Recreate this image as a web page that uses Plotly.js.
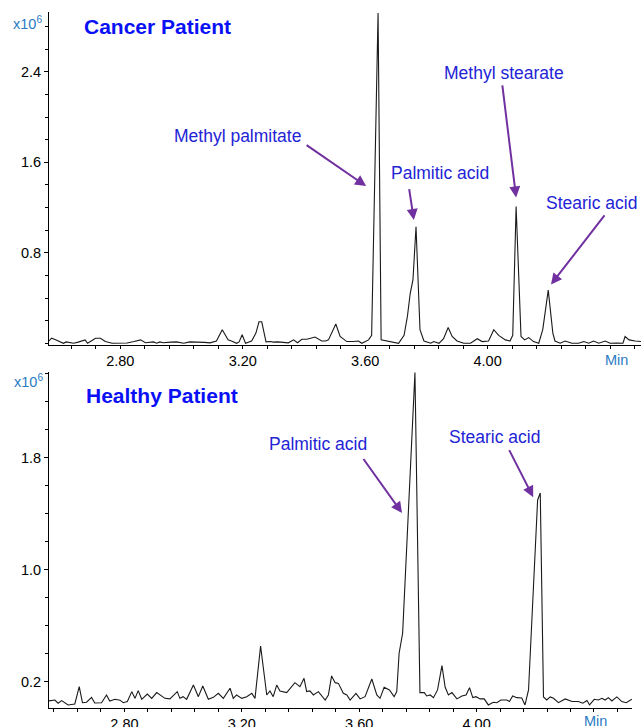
<!DOCTYPE html>
<html>
<head>
<meta charset="utf-8">
<script src="https://cdn.plot.ly/plotly-3.0.1.min.js"></script>
<style>
  html, body { margin: 0; padding: 0; background: #ffffff; }
  #chart { width: 641px; height: 727px; }
</style>
</head>
<body>
<div id="chart"></div>
<script>
// ---- Data (intensity in units of 10^6 counts, time in minutes) ----
const cancerTime = [2.567,2.575,2.585,2.600,2.614,2.623,2.647,2.662,2.685,2.693,2.705,2.719,2.735,2.751,2.773,2.800,2.822,2.845,2.866,2.882,2.895,2.908,2.919,2.929,2.940,2.951,2.965,2.984,3.007,3.027,3.045,3.060,3.075,3.093,3.105,3.114,3.133,3.152,3.163,3.180,3.188,3.198,3.209,3.220,3.229,3.243,3.253,3.262,3.276,3.290,3.300,3.315,3.333,3.349,3.366,3.379,3.393,3.409,3.422,3.436,3.458,3.470,3.480,3.504,3.518,3.540,3.561,3.578,3.589,3.611,3.621,3.642,3.652,3.671,3.692,3.709,3.727,3.738,3.747,3.756,3.766,3.779,3.792,3.802,3.814,3.824,3.841,3.856,3.871,3.884,3.900,3.922,3.944,3.966,3.982,4.003,4.020,4.036,4.058,4.073,4.082,4.093,4.109,4.121,4.134,4.150,4.167,4.180,4.198,4.213,4.220,4.237,4.253,4.275,4.297,4.314,4.330,4.346,4.363,4.384,4.400,4.422,4.442,4.449,4.462,4.482,4.501];
const cancerIntensity = [0.02,0.045,0.035,0.015,0.0,0.012,0.0,0.01,0.03,0.0,0.02,0.045,0.045,0.015,0.0,0.0,0.002,0.015,0.03,0.005,0.008,0.012,0.0,0.012,0.005,0.005,0.01,0.012,0.0,0.012,0.012,0.012,0.008,0.004,0.01,0.02,0.12,0.03,0.02,0.0,0.012,0.075,0.0,0.01,0.02,0.09,0.19,0.19,0.012,0.015,0.01,0.012,0.01,0.004,0.03,0.005,0.035,0.035,0.045,0.055,0.02,0.02,0.03,0.17,0.06,0.015,0.015,0.02,0.0,0.03,0.07,2.92,0.03,0.02,0.015,0.0,0.07,0.24,0.44,0.56,1.03,0.12,0.02,0.01,0.0,0.015,0.0,0.04,0.14,0.06,0.02,0.0,0.0,0.04,0.015,0.02,0.12,0.07,0.03,0.02,0.07,1.21,0.06,0.03,0.05,0.015,0.0,0.12,0.47,0.09,0.02,0.0,0.02,0.0,0.0,0.015,0.0,0.02,0.0,0.02,0.0,0.002,0.0,0.06,0.03,0.02,0.015];

const healthyTime = [2.540,2.563,2.574,2.586,2.608,2.631,2.646,2.657,2.671,2.688,2.699,2.722,2.739,2.750,2.768,2.785,2.796,2.810,2.825,2.836,2.847,2.859,2.878,2.893,2.910,2.921,2.938,2.955,2.966,2.980,2.989,3.000,3.012,3.035,3.052,3.067,3.086,3.103,3.120,3.137,3.160,3.171,3.182,3.200,3.217,3.234,3.245,3.264,3.285,3.296,3.307,3.319,3.330,3.353,3.381,3.398,3.412,3.421,3.432,3.444,3.461,3.484,3.495,3.506,3.518,3.529,3.546,3.558,3.569,3.589,3.603,3.620,3.643,3.660,3.671,3.685,3.703,3.719,3.728,3.736,3.748,3.760,3.790,3.807,3.822,3.830,3.842,3.853,3.867,3.882,3.893,3.904,3.916,3.933,3.950,3.964,3.976,3.987,3.998,4.012,4.026,4.040,4.057,4.069,4.083,4.103,4.112,4.123,4.137,4.154,4.165,4.177,4.208,4.217,4.228,4.239,4.251,4.262,4.279,4.302,4.325,4.347,4.362,4.376,4.385,4.401,4.415,4.427,4.438,4.449,4.461,4.478,4.495,4.510,4.529];
const healthyIntensity = [0.064,0.071,0.048,0.067,0.036,0.043,0.166,0.052,0.055,0.09,0.05,0.052,0.107,0.064,0.076,0.07,0.052,0.06,0.131,0.083,0.138,0.076,0.114,0.083,0.124,0.107,0.083,0.079,0.1,0.131,0.083,0.095,0.076,0.178,0.095,0.171,0.076,0.09,0.119,0.083,0.155,0.083,0.107,0.083,0.095,0.119,0.083,0.457,0.107,0.136,0.095,0.178,0.136,0.124,0.195,0.166,0.226,0.131,0.136,0.107,0.131,0.071,0.107,0.243,0.195,0.19,0.119,0.107,0.071,0.119,0.079,0.095,0.221,0.107,0.083,0.162,0.143,0.095,0.131,0.405,0.548,1.1,2.41,0.124,0.124,0.1,0.107,0.088,0.143,0.317,0.162,0.107,0.124,0.079,0.1,0.107,0.159,0.088,0.095,0.079,0.079,0.036,0.055,0.052,0.071,0.071,0.06,0.1,0.088,0.086,0.036,0.143,1.5,1.55,0.093,0.071,0.093,0.083,0.052,0.079,0.06,0.06,0.048,0.067,0.036,0.076,0.071,0.083,0.071,0.088,0.064,0.093,0.06,0.052,0.076];

const xTickValues = [2.8, 3.2, 3.6, 4.0];
const xTickLabels = ['2.80', '3.20', '3.60', '4.00'];
const cancerYTickValues = [0.8, 1.6, 2.4];
const cancerYTickLabels = ['0.8', '1.6', '2.4'];
const healthyYTickValues = [0.2, 1.0, 1.8];
const healthyYTickLabels = ['0.2', '1.0', '1.8'];

const panelTitles = ['Cancer Patient', 'Healthy Patient'];
const cancerPeakNames = ['Methyl palmitate', 'Palmitic acid', 'Methyl stearate', 'Stearic acid'];
const healthyPeakNames = ['Palmitic acid', 'Stearic acid'];
const scaleLabel = 'x10<sup>6</sup>';
const timeUnitLabel = 'Min';

// ---- Styling ----
const FONT = "Arial, 'Liberation Sans', sans-serif";
const LABEL_BLUE = '#2323d6';
const TITLE_BLUE = '#0a10f5';
const ARROW_PURPLE = '#7030a0';
const AXIS_BLUE = '#2b7bc4';

// label placement (text centre in data coords, arrow head in data coords, arrow tail offset in px)
const cancerLabelPlacement = [
  {tx: 3.184, ty: 1.833, hx: 3.603, hy: 1.39, ax: -61, ay: -42},
  {tx: 3.844, ty: 1.506, hx: 3.759, hy: 1.09, ax: -5, ay: -33},
  {tx: 4.054, ty: 2.390, hx: 4.093, hy: 1.29, ax: -14, ay: -114},
  {tx: 4.338, ty: 1.240, hx: 4.207, hy: 0.52, ax: 55, ay: -71}
];
const healthyLabelPlacement = [
  {tx: 3.461, ty: 1.90, hx: 3.746, hy: 1.407, ax: -40, ay: -56},
  {tx: 4.061, ty: 1.95, hx: 4.193, hy: 1.52, ax: -25, ay: -49}
];

const traces = [
  {x: cancerTime, y: cancerIntensity, xaxis: 'x', yaxis: 'y', type: 'scatter', mode: 'lines',
   line: {color: '#1a1a1a', width: 1.1}, hoverinfo: 'skip', showlegend: false},
  {x: healthyTime, y: healthyIntensity, xaxis: 'x2', yaxis: 'y2', type: 'scatter', mode: 'lines',
   line: {color: '#1a1a1a', width: 1.1}, hoverinfo: 'skip', showlegend: false}
];

const annotations = [];
function addPeakLabels(names, placement, xr, yr) {
  names.forEach((name, i) => {
    const p = placement[i];
    annotations.push({xref: xr, yref: yr, x: p.tx, y: p.ty, text: name, showarrow: false,
      xanchor: 'center', yanchor: 'middle', font: {family: FONT, size: 17.5, color: LABEL_BLUE}});
    annotations.push({xref: xr, yref: yr, x: p.hx, y: p.hy, text: ' ', showarrow: true,
      ax: p.ax, ay: p.ay, arrowhead: 2, arrowsize: 1.1, arrowwidth: 2, arrowcolor: ARROW_PURPLE,
      font: {size: 1}});
  });
}
addPeakLabels(cancerPeakNames, cancerLabelPlacement, 'x', 'y');
addPeakLabels(healthyPeakNames, healthyLabelPlacement, 'x2', 'y2');

annotations.push(
  {xref: 'x domain', yref: 'y domain', x: 0.056, y: 0.955, text: '<b>' + panelTitles[0] + '</b>',
   showarrow: false, xanchor: 'left', yanchor: 'middle', font: {family: FONT, size: 21, color: TITLE_BLUE}},
  {xref: 'x2 domain', yref: 'y2 domain', x: 0.06, y: 0.929, text: '<b>' + panelTitles[1] + '</b>',
   showarrow: false, xanchor: 'left', yanchor: 'middle', font: {family: FONT, size: 21, color: TITLE_BLUE}},
  {xref: 'x domain', yref: 'y domain', x: -0.036, y: 0.968, text: scaleLabel, showarrow: false,
   xanchor: 'center', yanchor: 'middle', font: {family: FONT, size: 14.5, color: AXIS_BLUE}},
  {xref: 'x2 domain', yref: 'y2 domain', x: -0.036, y: 0.972, text: scaleLabel, showarrow: false,
   xanchor: 'center', yanchor: 'middle', font: {family: FONT, size: 14.5, color: AXIS_BLUE}},
  {xref: 'x domain', yref: 'y domain', x: 0.959, y: -0.045, text: timeUnitLabel, showarrow: false,
   xanchor: 'center', yanchor: 'middle', font: {family: FONT, size: 14.5, color: AXIS_BLUE}},
  {xref: 'x2 domain', yref: 'y2 domain', x: 0.937, y: -0.038, text: timeUnitLabel, showarrow: false,
   xanchor: 'center', yanchor: 'middle', font: {family: FONT, size: 14.5, color: AXIS_BLUE}}
);

const xAxisCommon = {
  showline: true, linecolor: '#000', linewidth: 1, showgrid: false, zeroline: false,
  ticks: 'outside', ticklen: 3, tickcolor: '#000', tickwidth: 1,
  tickmode: 'array', tickvals: xTickValues, ticktext: xTickLabels,
  tickfont: {family: FONT, size: 14.5, color: '#000'},
  minor: {dtick: 0.08, tick0: 2.8, ticks: 'outside', ticklen: 3, tickcolor: '#000', showgrid: false},
  fixedrange: true
};
const yAxisCommon = {
  showline: true, linecolor: '#000', linewidth: 1, showgrid: false, zeroline: false,
  ticks: 'outside', ticklen: 4, tickcolor: '#000', tickwidth: 1,
  tickfont: {family: FONT, size: 14.5, color: '#000'},
  minor: {dtick: 0.2, tick0: 0, ticks: 'outside', ticklen: 3, tickcolor: '#000', showgrid: false},
  tickmode: 'array', fixedrange: true
};

const layout = {
  width: 641, height: 727,
  margin: {l: 49, r: 0, t: 12, b: 19},
  paper_bgcolor: '#fff', plot_bgcolor: '#fff',
  showlegend: false,
  xaxis: Object.assign({}, xAxisCommon, {domain: [0, 1], range: [2.567, 4.501], anchor: 'y'}),
  yaxis: Object.assign({}, yAxisCommon, {domain: [0.5216, 1], range: [-0.015, 2.93], anchor: 'x',
    tickvals: cancerYTickValues, ticktext: cancerYTickLabels}),
  xaxis2: Object.assign({}, xAxisCommon, {domain: [0, 0.985], range: [2.543, 4.530], anchor: 'y2'}),
  yaxis2: Object.assign({}, yAxisCommon, {domain: [0, 0.4828], range: [0.014, 2.414], anchor: 'x2',
    tickvals: healthyYTickValues, ticktext: healthyYTickLabels}),
  annotations: annotations
};

Plotly.newPlot('chart', traces, layout, {displayModeBar: false, staticPlot: true});
</script>
</body>
</html>
